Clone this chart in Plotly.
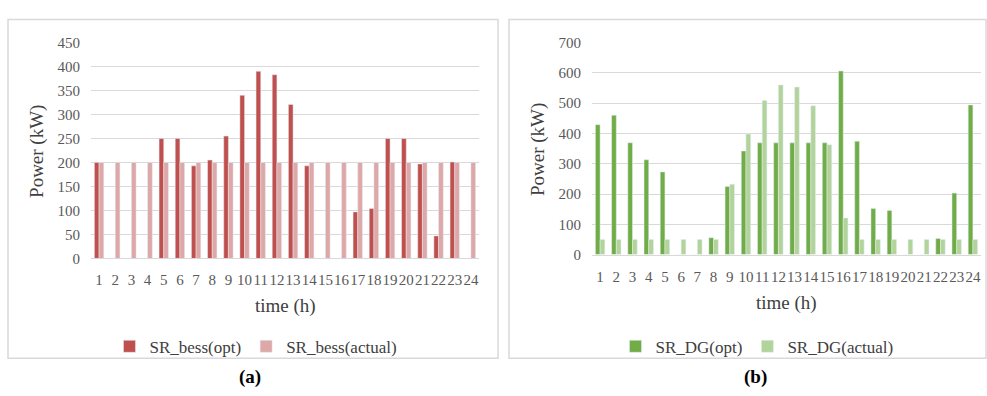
import plotly.graph_objects as go

hours = [str(h) for h in range(1, 25)]
bess_opt = [200, 0, 0, 0, 250, 250, 193, 205, 255, 340, 390, 383, 321, 193, 0, 0, 97, 104, 250, 250, 197, 47, 201, 0]
bess_actual = [200] * 24
dg_opt = [429, 460, 369, 313, 273, 0, 0, 56, 225, 342, 369, 369, 369, 369, 369, 606, 374, 152, 146, 0, 0, 53, 203, 494]
dg_actual = [50, 50, 50, 50, 50, 50, 50, 50, 232, 398, 509, 560, 553, 491, 363, 121, 50, 50, 50, 50, 50, 50, 50, 50]
left_ticks = list(range(0, 451, 50))
right_ticks = list(range(0, 701, 100))

W, H = 987, 396
FONT = "Liberation Serif, serif"
TICKC = "#595959"
GRID = "#D9D9D9"

def px(x):
    return x / W

def py(y):
    return 1 - y / H

fig = go.Figure()
fig.add_trace(go.Bar(x=hours, y=bess_opt, name="SR_bess(opt)", marker_color="#C0504D",
                     xaxis="x", yaxis="y", legend="legend"))
fig.add_trace(go.Bar(x=hours, y=bess_actual, name="SR_bess(actual)", marker_color="#DDA8A7",
                     xaxis="x", yaxis="y", legend="legend"))
fig.add_trace(go.Bar(x=hours, y=dg_opt, name="SR_DG(opt)", marker_color="#70AD47",
                     xaxis="x2", yaxis="y2", legend="legend2"))
fig.add_trace(go.Bar(x=hours, y=dg_actual, name="SR_DG(actual)", marker_color="#B2D49A",
                     xaxis="x2", yaxis="y2", legend="legend2"))

axis_font = dict(family=FONT, size=15, color=TICKC)
xcommon = dict(type="category", tickmode="array", tickvals=hours, ticktext=hours,
               tickfont=axis_font, tickangle=0, showgrid=False, showline=True,
               linecolor=GRID, linewidth=1, ticks="", ticklabelstandoff=8, fixedrange=True)
ycommon = dict(tickfont=axis_font, showgrid=True, gridcolor=GRID, gridwidth=1,
               zeroline=False, showline=False, ticks="", ticklabelstandoff=10)

fig.update_layout(
    width=W, height=H, margin=dict(l=0, r=0, t=0, b=0),
    paper_bgcolor="white", plot_bgcolor="white",
    barmode="group", bargap=0.42, bargroupgap=0,
    xaxis=dict(domain=[px(91), px(479)], anchor="y", **xcommon),
    yaxis=dict(domain=[py(261), py(36)], anchor="x", range=[0, 450],
               tickvals=left_ticks, **ycommon),
    xaxis2=dict(domain=[px(592), px(981)], anchor="y2", **xcommon),
    yaxis2=dict(domain=[py(257), py(36)], anchor="x2", range=[0, 700],
                tickvals=right_ticks, **ycommon),
    legend=dict(orientation="h", x=px(256), xanchor="center", y=py(353), yanchor="middle",
                font=dict(family=FONT, size=17, color="#404040"), itemwidth=30,
                bgcolor="rgba(0,0,0,0)"),
    legend2=dict(orientation="h", x=px(757), xanchor="center", y=py(353), yanchor="middle",
                 font=dict(family=FONT, size=17, color="#404040"), itemwidth=30,
                 bgcolor="rgba(0,0,0,0)"),
    showlegend=True,
)

# panel borders
for x0, x1 in [(8, 498), (509, 986)]:
    fig.add_shape(type="rect", xref="paper", yref="paper",
                  x0=px(x0), x1=px(x1), y0=py(365), y1=py(12),
                  line=dict(color="#D9D9D9", width=1.5), layer="below")

title_font = dict(family=FONT, size=19, color="#404040")
anns = [
    dict(x=px(285), y=py(311), text="time (h)", font=title_font),
    dict(x=px(786), y=py(307), text="time (h)", font=title_font),
    dict(x=px(37), y=py(150), text="Power (kW)", font=title_font, textangle=-90),
    dict(x=px(538), y=py(148), text="Power (kW)", font=title_font, textangle=-90),
    dict(x=px(250), y=py(385), text="<b>(a)</b>", font=dict(family=FONT, size=19, color="black")),
    dict(x=px(755), y=py(385), text="<b>(b)</b>", font=dict(family=FONT, size=19, color="black")),
]
for a in anns:
    fig.add_annotation(xref="paper", yref="paper", showarrow=False,
                       xanchor="center", yanchor="middle", **a)

fig.write_html("out.html")
